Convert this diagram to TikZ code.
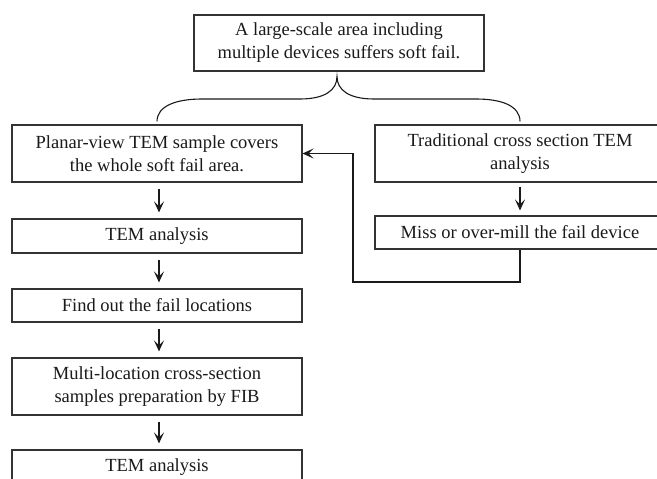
\documentclass[tikz,border=0pt]{standalone}
\usepackage{fontspec}
\setmainfont{Liberation Serif}
\usetikzlibrary{arrows.meta,calc}
\definecolor{ink}{HTML}{1A1A1A}
\definecolor{frame}{HTML}{333333}
\tikzset{
  box/.style={draw=frame, line width=1.1pt, rectangle, inner sep=0pt, align=center,
    text=ink, font=\fontsize{18.5}{23}\selectfont, minimum width=290pt},
  arr/.style={draw=ink, line width=1.2pt, -{Stealth[length=11pt,width=10pt,inset=5pt]}},
  gap/.style={shorten <=6pt, shorten >=6pt},
  link/.style={draw=ink, line width=1.1pt}
}
\begin{document}
\begin{tikzpicture}[x=1pt,y=-1pt]
\useasboundingbox (0,0) rectangle (657,479);
\clip (0,0) rectangle (657,479);
\fill[white] (0,0) rectangle (657,479);
% top
\node[box, minimum height=56pt] (top) at (339,43) {A large-scale area including\\multiple devices suffers soft fail.};
% left column
\node[box, minimum height=57pt] (b1) at (157,153.5) {Planar-view TEM sample covers\\the whole soft fail area.};
\node[box, minimum height=34pt] (b2) at (157,236) {TEM analysis};
\node[box, minimum height=33pt] (b3) at (157,305.5) {Find out the fail locations};
\node[box, minimum height=57pt] (b4) at (157,386.5) {Multi-location cross-section\\samples preparation by FIB};
\node[box, minimum height=34pt] (b5) at (157,467) {TEM analysis};
% right column
\node[box, minimum height=57pt] (r1) at (520,153.5) {Traditional cross section TEM\\analysis};
\node[box, minimum height=33pt] (r2) at (520,232.5) {Miss or over-mill the fail device};
% brace
\coordinate (bl) at ($(b1.north)+(0,-3)$);
\coordinate (br) at ($(r1.north)+(0,-3)$);
\coordinate (tip) at ($(top.south)+(-2,5)$);
\draw[link] (bl) .. controls (157,106) and (176,99) .. (202,99) -- (300,99)
  .. controls (325,99) and (337,90) .. (tip)
  .. controls (337,90) and (349,99) .. (374,99) -- (476,99)
  .. controls (502,99) and (520,106) .. (br);
% arrows down
\draw[arr, gap] ($(b1.south)+(2,0)$) -- ($(b2.north)+(2,0)$);
\draw[arr, gap] ($(b2.south)+(2,0)$) -- ($(b3.north)+(2,0)$);
\draw[arr, gap] ($(b3.south)+(2,0)$) -- ($(b4.north)+(2,0)$);
\draw[arr, gap] ($(b4.south)+(2,0)$) -- ($(b5.north)+(2,0)$);
\draw[arr, shorten <=4pt, shorten >=5pt] (r1.south) -- (r2.north);
% feedback
\coordinate (fb) at (353,282);
\draw[arr] (r2.south) |- (fb) |- (b1.east);
\end{tikzpicture}
\end{document}
